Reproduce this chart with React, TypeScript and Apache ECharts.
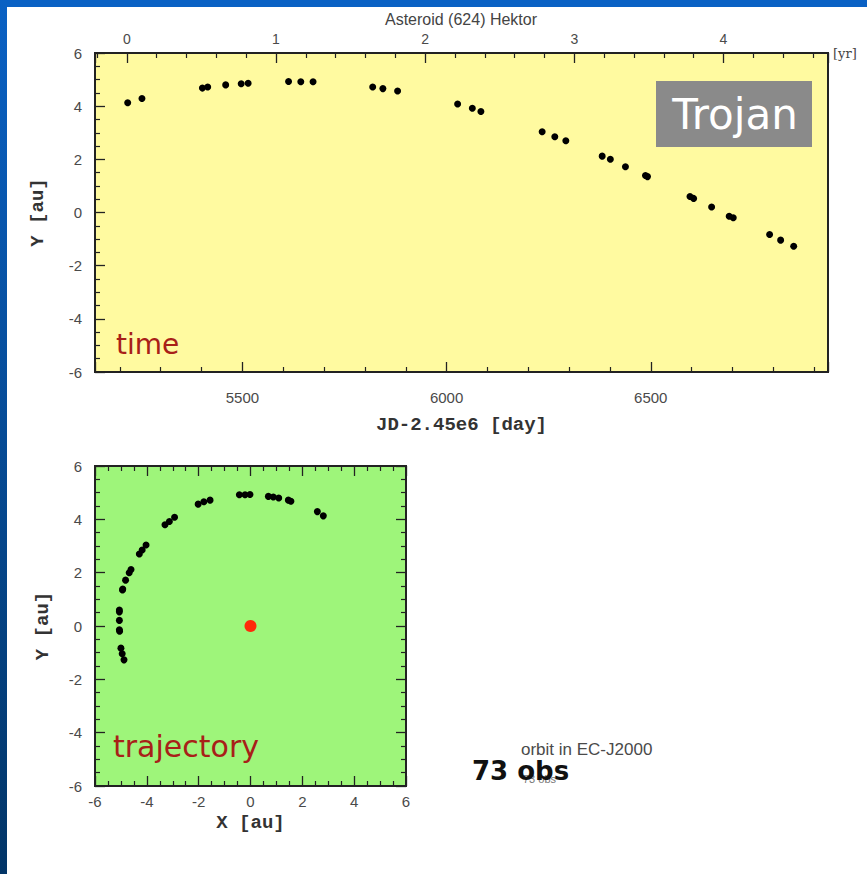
import React, { useEffect, useRef } from "react";
import * as echarts from "echarts";

// Observations (JD - 2.45e6 [day]) and ecliptic positions [au]
const obsDay = [5219, 5254, 5402, 5415, 5459, 5497, 5514, 5613, 5643, 5673, 5819, 5844, 5880, 6027, 6063, 6084, 6234, 6265, 6292, 6381, 6401, 6438, 6487, 6492, 6596, 6605, 6649, 6692, 6702, 6791, 6818, 6850];
const obsY = [4.13, 4.29, 4.68, 4.72, 4.80, 4.84, 4.86, 4.93, 4.92, 4.92, 4.72, 4.66, 4.57, 4.08, 3.92, 3.80, 3.04, 2.85, 2.70, 2.12, 2.00, 1.72, 1.39, 1.35, 0.60, 0.53, 0.21, -0.14, -0.20, -0.83, -1.04, -1.27];
const obsX = [2.81, 2.58, 1.56, 1.46, 1.09, 0.88, 0.69, -0.02, -0.21, -0.43, -1.56, -1.80, -2.02, -2.93, -3.13, -3.30, -4.03, -4.18, -4.29, -4.61, -4.68, -4.82, -4.93, -4.94, -5.06, -5.06, -5.06, -5.06, -5.05, -5.00, -4.95, -4.88];
const sunPos = [[0, 0]];

// Axis ranges
const DAY_MIN = 5139;
const DAY_MAX = 6934;
const YEAR0_DAY = 5217;
const DAYS_PER_YEAR = 365.25;
const AU_MIN = -6;
const AU_MAX = 6;

const labelFont = "'Liberation Sans Narrow', 'Liberation Sans', Arial, sans-serif";
const monoFont = "'Liberation Mono', 'DejaVu Sans Mono', monospace";
const tickColor = "#222";

const noLine = { show: false, onZero: false };
const tickCfg = (len: number) => ({
  show: true,
  inside: true,
  length: len,
  lineStyle: { color: tickColor, width: 1.3 },
});
const minorCfg = (n: number) => ({
  show: true,
  splitNumber: n,
  length: 5,
  lineStyle: { color: tickColor, width: 1.2 },
});
const numLabel = (margin: number, show = true) => ({
  show,
  margin,
  color: "#4a4a4a",
  fontSize: 15,
  fontFamily: labelFont,
});
const nameStyle = {
  fontFamily: monoFont,
  fontWeight: "bold" as const,
  fontSize: 19,
  color: "#333",
};

export default function App() {
  const ref = useRef<HTMLDivElement>(null);
  useEffect(() => {
    if (!ref.current) return;
    const chart = echarts.init(ref.current, null, { renderer: "svg" });
    const yrMin = (DAY_MIN - YEAR0_DAY) / DAYS_PER_YEAR;
    const yrMax = (DAY_MAX - YEAR0_DAY) / DAYS_PER_YEAR;
    const option: any = {
      animation: false,
      backgroundColor: "#ffffff",
      grid: [
        { left: 95, top: 53, width: 733, height: 319, show: true, backgroundColor: "#fffaa0", borderColor: "#222", borderWidth: 2 },
        { left: 95, top: 466, width: 311, height: 320, show: true, backgroundColor: "#9ef57a", borderColor: "#222", borderWidth: 2 },
      ],
      xAxis: [
        {
          gridIndex: 0, type: "value", position: "bottom", min: DAY_MIN, max: DAY_MAX, splitNumber: 4,
          axisLine: noLine, splitLine: { show: false },
          axisTick: tickCfg(10), minorTick: minorCfg(5),
          axisLabel: { ...numLabel(18), showMinLabel: false, showMaxLabel: false, formatter: (v: number) => (v % 500 === 0 ? String(v) : "") },
          name: "JD-2.45e6 [day]", nameLocation: "middle", nameGap: 43, nameTextStyle: nameStyle,
        },
        {
          gridIndex: 0, type: "value", position: "top", min: yrMin, max: yrMax, splitNumber: 5,
          axisLine: noLine, splitLine: { show: false },
          axisTick: tickCfg(10), minorTick: minorCfg(5),
          axisLabel: { ...numLabel(7), fontSize: 14, showMinLabel: false, showMaxLabel: false, formatter: (v: number) => (Number.isInteger(v) ? String(v) : "") },
          name: "[yr]", nameLocation: "end", nameGap: 5,
          nameTextStyle: { fontFamily: "'DejaVu Serif', serif", fontSize: 13, color: "#444" },
        },
        {
          gridIndex: 1, type: "value", position: "bottom", min: AU_MIN, max: AU_MAX, interval: 2,
          axisLine: noLine, splitLine: { show: false },
          axisTick: tickCfg(10), minorTick: minorCfg(4),
          axisLabel: numLabel(8),
          name: "X [au]", nameLocation: "middle", nameGap: 27, nameTextStyle: nameStyle,
        },
        {
          gridIndex: 1, type: "value", position: "top", min: AU_MIN, max: AU_MAX, interval: 2,
          axisLine: noLine, splitLine: { show: false },
          axisTick: tickCfg(10), minorTick: minorCfg(4),
          axisLabel: { show: false },
        },
      ],
      yAxis: [
        {
          gridIndex: 0, type: "value", position: "left", min: AU_MIN, max: AU_MAX, interval: 2,
          axisLine: noLine, splitLine: { show: false },
          axisTick: tickCfg(10), minorTick: minorCfg(4),
          axisLabel: numLabel(13),
          name: "Y [au]", nameLocation: "middle", nameRotate: 90, nameGap: 48, nameTextStyle: nameStyle,
        },
        {
          gridIndex: 1, type: "value", position: "left", min: AU_MIN, max: AU_MAX, interval: 2,
          axisLine: noLine, splitLine: { show: false },
          axisTick: tickCfg(10), minorTick: minorCfg(4),
          axisLabel: numLabel(13),
          name: "Y [au]", nameLocation: "middle", nameRotate: 90, nameGap: 43, nameTextStyle: nameStyle,
        },
        {
          gridIndex: 1, type: "value", position: "right", min: AU_MIN, max: AU_MAX, interval: 2,
          axisLine: noLine, splitLine: { show: false },
          axisTick: tickCfg(10), minorTick: minorCfg(4),
          axisLabel: { show: false },
        },
      ],
      series: [
        {
          type: "scatter", xAxisIndex: 0, yAxisIndex: 0, symbolSize: 7, silent: true,
          itemStyle: { color: "#000", opacity: 1 },
          data: obsDay.map((d, i) => [d, obsY[i]]),
        },
        {
          type: "scatter", xAxisIndex: 2, yAxisIndex: 1, symbolSize: 7, silent: true,
          itemStyle: { color: "#000", opacity: 1 },
          data: obsX.map((x, i) => [x, obsY[i]]),
        },
        {
          type: "scatter", xAxisIndex: 2, yAxisIndex: 1, symbolSize: 12, silent: true,
          itemStyle: { color: "#ff2a0a", opacity: 1 },
          data: sunPos,
        },
      ],
      graphic: [
        { type: "rect", z: 20, shape: { x: 0, y: 0, width: 867, height: 7 }, style: { fill: "#0a61c4" } },
        {
          type: "rect", z: 20, shape: { x: 0, y: 0, width: 7, height: 874 },
          style: {
            fill: new echarts.graphic.LinearGradient(0, 0, 0, 1, [
              { offset: 0, color: "#0a61c4" },
              { offset: 1, color: "#023567" },
            ]),
          },
        },
        {
          type: "text", z: 20, x: 461, y: 19,
          style: { text: "Asteroid (624) Hektor", fontFamily: labelFont, fontSize: 16, fill: "#444", align: "center", verticalAlign: "middle" },
        },
        { type: "rect", z: 20, shape: { x: 656, y: 81, width: 156, height: 66 }, style: { fill: "#8a8a8a" } },
        {
          type: "text", z: 21, x: 735, y: 114,
          style: { text: "Trojan", fontFamily: "'DejaVu Sans', sans-serif", fontSize: 42, fill: "#ffffff", align: "center", verticalAlign: "middle" },
        },
        {
          type: "text", z: 20, x: 116, y: 344,
          style: { text: "time", fontFamily: "'DejaVu Sans', sans-serif", fontSize: 28, fill: "#a82018", align: "left", verticalAlign: "middle" },
        },
        {
          type: "text", z: 20, x: 113, y: 746,
          style: { text: "trajectory", fontFamily: "'DejaVu Sans', sans-serif", fontSize: 30, fill: "#a82018", align: "left", verticalAlign: "middle" },
        },
        {
          type: "text", z: 20, x: 521, y: 749,
          style: { text: "orbit in EC-J2000", fontFamily: "'Liberation Sans', Arial, sans-serif", fontSize: 17, fill: "#4a4a4a", align: "left", verticalAlign: "middle" },
        },
        {
          type: "text", z: 20, x: 523, y: 779,
          style: { text: "73 obs", fontFamily: "'Liberation Sans', Arial, sans-serif", fontSize: 11, fill: "#777", align: "left", verticalAlign: "middle" },
        },
        {
          type: "text", z: 21, x: 472, y: 771,
          style: { text: "73 obs", fontFamily: "'DejaVu Sans', sans-serif", fontWeight: "bold", fontSize: 26, fill: "#111", align: "left", verticalAlign: "middle" },
        },
      ],
    };
    chart.setOption(option);
    return () => chart.dispose();
  }, []);
  return (
    <div
      ref={ref}
      style={{ position: "absolute", left: 0, top: 0, width: 867, height: 874, background: "#fff" }}
    />
  );
}
